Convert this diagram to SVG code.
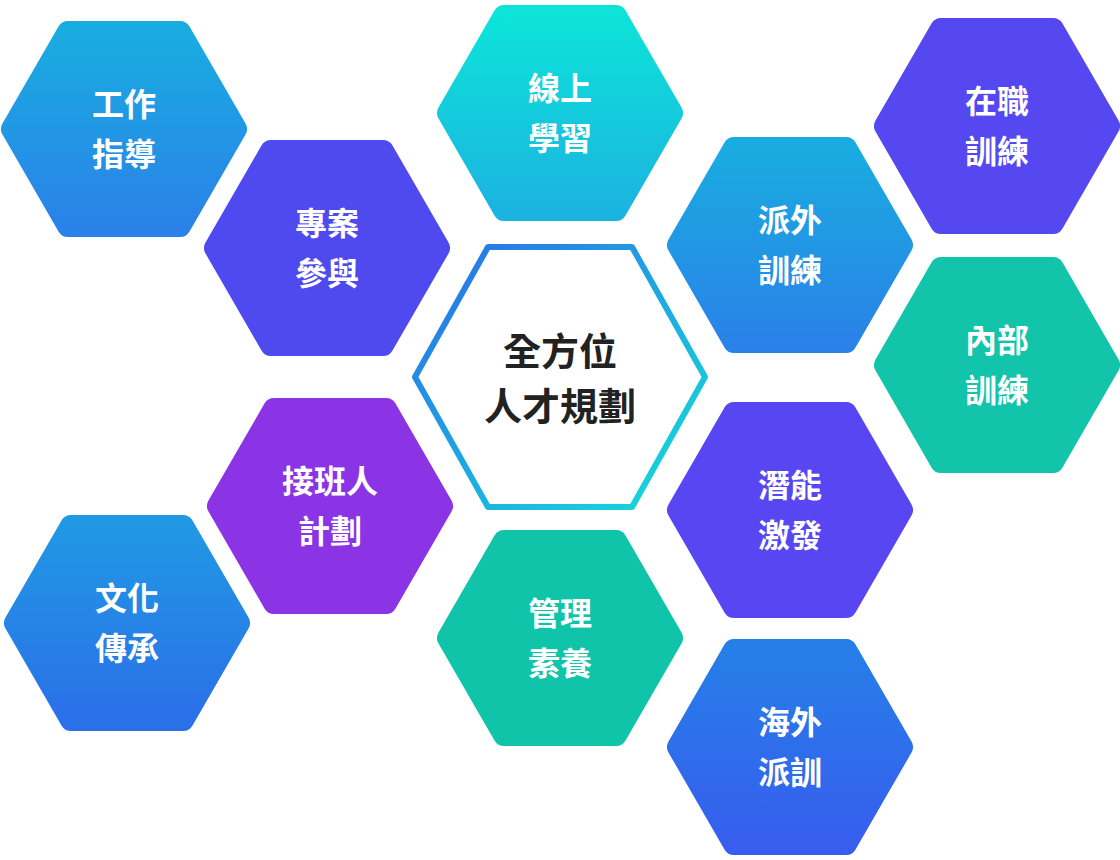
<svg xmlns="http://www.w3.org/2000/svg" width="1120" height="860" viewBox="0 0 1120 860">
<style>
.h{stroke-linejoin:round;stroke-width:22}
.t{font-family:"Noto Sans CJK TC","Noto Sans CJK SC",sans-serif;font-weight:700;font-size:32px;fill:#fff;text-anchor:middle}
.c{font-family:"Noto Sans CJK TC","Noto Sans CJK SC",sans-serif;font-weight:700;font-size:38px;fill:#222;text-anchor:middle}
</style>
<defs>
<polygon id="hx" points="-112,0 -56,-97 56,-97 112,0 56,97 -56,97"/>
<linearGradient id="gb" x1="0" y1="0" x2="0" y2="1"><stop offset="0" stop-color="#19ace0"/><stop offset="1" stop-color="#2a82e8"/></linearGradient>
<linearGradient id="gc" x1="0" y1="0" x2="0" y2="1"><stop offset="0" stop-color="#0de3d9"/><stop offset="1" stop-color="#1bb4e0"/></linearGradient>
<linearGradient id="gd" x1="0" y1="0" x2="0" y2="1"><stop offset="0" stop-color="#2198e4"/><stop offset="1" stop-color="#2a70e8"/></linearGradient>
<linearGradient id="ge" x1="0" y1="0" x2="0" y2="1"><stop offset="0" stop-color="#267ee8"/><stop offset="1" stop-color="#375eee"/></linearGradient>
<linearGradient id="gs" x1="0" y1="0" x2="1" y2="1"><stop offset="0" stop-color="#2a6ee8"/><stop offset="1" stop-color="#14e0d8"/></linearGradient>
</defs>
<g id="n1"><use href="#hx" x="124" y="129" fill="url(#gb)" stroke="url(#gb)" class="h"/><text class="t" x="124" y="116">工作</text><text class="t" x="124" y="166">指導</text></g>
<g id="n2"><use href="#hx" x="327" y="248" fill="#4f4af0" stroke="#4f4af0" class="h"/><text class="t" x="327" y="235">專案</text><text class="t" x="327" y="285">參與</text></g>
<g id="n3"><use href="#hx" x="560" y="113" fill="url(#gc)" stroke="url(#gc)" class="h"/><text class="t" x="560" y="100">線上</text><text class="t" x="560" y="150">學習</text></g>
<g id="n4"><use href="#hx" x="997" y="126" fill="#5548f0" stroke="#5548f0" class="h"/><text class="t" x="997" y="113">在職</text><text class="t" x="997" y="163">訓練</text></g>
<g id="n5"><use href="#hx" x="790" y="245" fill="url(#gb)" stroke="url(#gb)" class="h"/><text class="t" x="790" y="232">派外</text><text class="t" x="790" y="282">訓練</text></g>
<g id="n6"><use href="#hx" x="997" y="365" fill="#12c4aa" stroke="#12c4aa" class="h"/><text class="t" x="997" y="352">內部</text><text class="t" x="997" y="402">訓練</text></g>
<g id="center"><polygon points="-145,0 -72,-130 72,-130 145,0 72,130 -72,130" transform="translate(560,377)" fill="#fff" stroke="url(#gs)" stroke-width="6" stroke-linejoin="round"/><text class="c" x="560" y="365">全方位</text><text class="c" x="560" y="420">人才規劃</text></g>
<g id="n7"><use href="#hx" x="330" y="506" fill="#8a34e6" stroke="#8a34e6" class="h"/><text class="t" x="330" y="493">接班人</text><text class="t" x="330" y="543">計劃</text></g>
<g id="n8"><use href="#hx" x="790" y="510" fill="#5846f2" stroke="#5846f2" class="h"/><text class="t" x="790" y="497">潛能</text><text class="t" x="790" y="547">激發</text></g>
<g id="n9"><use href="#hx" x="127" y="623" fill="url(#gd)" stroke="url(#gd)" class="h"/><text class="t" x="127" y="610">文化</text><text class="t" x="127" y="660">傳承</text></g>
<g id="n10"><use href="#hx" x="560" y="638" fill="#10c4aa" stroke="#10c4aa" class="h"/><text class="t" x="560" y="625">管理</text><text class="t" x="560" y="675">素養</text></g>
<g id="n11"><use href="#hx" x="790" y="747" fill="url(#ge)" stroke="url(#ge)" class="h"/><text class="t" x="790" y="734">海外</text><text class="t" x="790" y="784">派訓</text></g>
<g id="connectors"/>
</svg>
